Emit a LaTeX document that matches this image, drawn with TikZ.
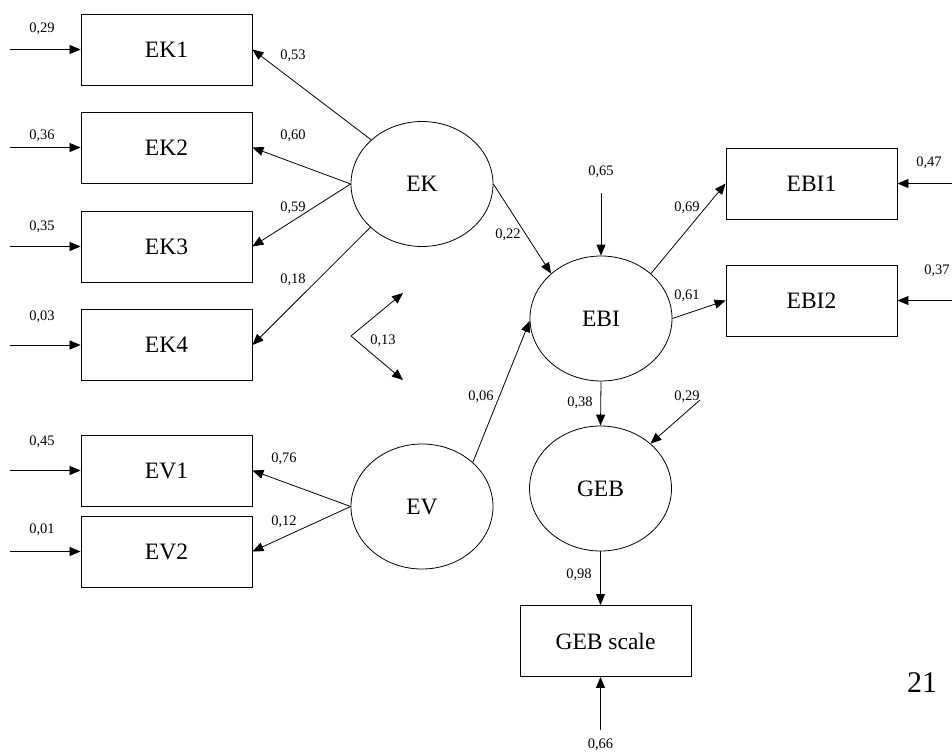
\documentclass[tikz,border=0pt]{standalone}
\usepackage{fontspec}
\setmainfont{Liberation Serif}
\usetikzlibrary{arrows.meta,shapes.geometric}
\begin{document}
\begin{tikzpicture}[x=1pt,y=-1pt,
  box/.style={draw,line width=0.9pt,minimum width=171pt,minimum height=71pt,inner sep=0pt,font=\fontsize{23.5}{26}\selectfont},
  lat/.style={draw,ellipse,line width=0.8pt,minimum width=142pt,minimum height=125pt,inner sep=0pt,font=\fontsize{23.5}{26}\selectfont},
  lbl/.style={font=\fontsize{14.5}{16}\selectfont,inner sep=0pt},
  arr/.style={-{Triangle[length=11pt,width=9pt]},line width=0.8pt}]
\useasboundingbox (0,0) rectangle (952,752);
% observed boxes
\node[box] (EK1) at (166.5,49.5) {EK1};
\node[box] (EK2) at (166.5,147.5) {EK2};
\node[box] (EK3) at (166.5,246.5) {EK3};
\node[box] (EK4) at (166.5,345) {EK4};
\node[box] (EV1) at (166.5,470.5) {EV1};
\node[box] (EV2) at (166.5,551.5) {EV2};
\node[box] (EBI1) at (811.5,183.5) {EBI1};
\node[box] (EBI2) at (811.5,300.5) {EBI2};
\node[box] (GEBs) at (605.5,641) {GEB scale};
% latent
\node[lat] (EK) at (422,184) {EK};
\node[lat] (EV) at (422,506.5) {EV};
\node[lat] (EBI) at (601,318.5) {EBI};
\node[lat] (GEB) at (600.5,488.5) {GEB};
% error terms
\coordinate (e1) at (10,49.5);
\coordinate (e2) at (10,147.5);
\coordinate (e3) at (10,246.5);
\coordinate (e4) at (10,345);
\coordinate (e5) at (10,470.5);
\coordinate (e6) at (10,551.5);
\coordinate (e7) at (952,183.5);
\coordinate (e8) at (952,300.5);
\coordinate (e9) at (601,193);
\coordinate (e10) at (700,400);
\coordinate (e11) at (600.5,730);
\draw[arr] (e1) -- (EK1.west);
\draw[arr] (e2) -- (EK2.west);
\draw[arr] (e3) -- (EK3.west);
\draw[arr] (e4) -- (EK4.west);
\draw[arr] (e5) -- (EV1.west);
\draw[arr] (e6) -- (EV2.west);
\draw[arr] (e7) -- (EBI1.east);
\draw[arr] (e8) -- (EBI2.east);
\draw[arr] (e9) -- (EBI.north);
\draw[arr] (e10) -- (GEB.42);
\draw[arr] (e11) -- (e11 |- GEBs.south);
% loadings
\draw[arr] (EK.139) -- (EK1.east);
\draw[arr] (EK.west) -- (EK2.east);
\draw[arr] (EK.west) -- (EK3.east);
\draw[arr] (EK.220) -- (EK4.east);
\draw[arr] (EV.west) -- (EV1.east);
\draw[arr] (EV.west) -- (EV2.east);
\draw[arr] (EK.east) -- (EBI.138);
\draw[arr] (EV.41) -- (EBI.182);
\draw[arr] (EBI.42) -- (EBI1.west);
\draw[arr] (EBI.east) -- (EBI2.west);
\draw[arr] (EBI.south) -- (GEB.north);
\draw[arr] (GEB.south) -- (GEB.south |- GEBs.north);
% correlation
\coordinate (cv) at (351,336);
\coordinate (c1) at (403,293);
\coordinate (c2) at (403,380);
\draw[arr] (cv) -- (c1);
\draw[arr] (cv) -- (c2);
% labels
\node[lbl] (t1) at (42,29) {0,29};
\node[lbl] (t2) at (42,136) {0,36};
\node[lbl] (t3) at (42,227) {0,35};
\node[lbl] (t4) at (42,317) {0,03};
\node[lbl] (t5) at (42,442) {0,45};
\node[lbl] (t6) at (42,530) {0,01};
\node[lbl] (t7) at (293,56) {0,53};
\node[lbl] (t8) at (293,136) {0,60};
\node[lbl] (t9) at (293,208) {0,59};
\node[lbl] (t10) at (293,280) {0,18};
\node[lbl] (t11) at (284,459) {0,76};
\node[lbl] (t12) at (284,522) {0,12};
\node[lbl] (t13) at (508,235) {0,22};
\node[lbl] (t14) at (601,172) {0,65};
\node[lbl] (t15) at (383,341) {0,13};
\node[lbl] (t16) at (481,397) {0,06};
\node[lbl] (t17) at (687,208) {0,69};
\node[lbl] (t18) at (687,296) {0,61};
\node[lbl] (t19) at (929,163) {0,47};
\node[lbl] (t20) at (937,271) {0,37};
\node[lbl] (t21) at (580,403) {0,38};
\node[lbl] (t22) at (687,397) {0,29};
\node[lbl] (t23) at (579,575) {0,98};
\node[lbl] (t24) at (600.5,745) {0,66};
\node[font=\fontsize{30}{32}\selectfont,inner sep=0pt] (pg) at (922,683) {21};
\end{tikzpicture}
\end{document}
